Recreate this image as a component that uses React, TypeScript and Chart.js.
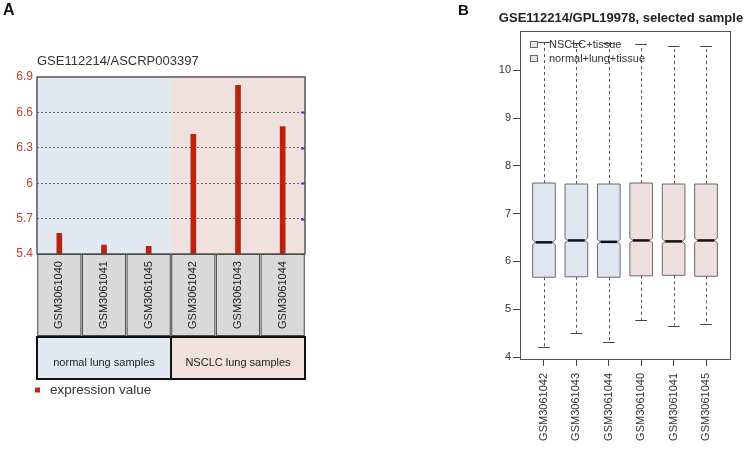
import React, { useEffect, useRef } from "react";
import { Chart, registerables } from "chart.js";

Chart.register(...registerables);

// ---------- Panel A data ----------
const samplesA = ["GSM3061040", "GSM3061041", "GSM3061045", "GSM3061042", "GSM3061043", "GSM3061044"];
const expressionA = [5.575, 5.475, 5.465, 6.415, 6.83, 6.48];
const yTicksA = [5.4, 5.7, 6.0, 6.3, 6.6, 6.9];
const yTickLabelsA = ["5.4", "5.7", "6", "6.3", "6.6", "6.9"];
const groupNamesA = ["normal lung samples", "NSCLC lung samples"];
const groupSizesA = [3, 3];
const titleA = "GSE112214/ASCRP003397";
const legendA = "expression value";

// ---------- Panel B data ----------
const samplesB = ["GSM3061042", "GSM3061043", "GSM3061044", "GSM3061040", "GSM3061041", "GSM3061045"];
const lowerWhiskerB = [4.21, 4.51, 4.32, 4.78, 4.66, 4.7];
const q1B = [5.67, 5.68, 5.67, 5.7, 5.71, 5.69];
const medianB = [6.4, 6.44, 6.41, 6.44, 6.42, 6.44];
const q3B = [7.64, 7.62, 7.62, 7.64, 7.62, 7.62];
const upperWhiskerB = [10.59, 10.57, 10.56, 10.54, 10.5, 10.5];
const groupOfB = [0, 0, 0, 1, 1, 1];
const legendB = ["NSCLC+tissue", "normal+lung+tissue"];
const yTicksB = [4, 5, 6, 7, 8, 9, 10];
const titleB = "GSE112214/GPL19978, selected sample";

const FONT = "'Liberation Sans', Arial, Helvetica, sans-serif";
const BLUE_BG = "#e3e9f3";
const PINK_BG = "#f0e1df";
const groupColorsA = [BLUE_BG, PINK_BG];
const boxFillB = ["#dfe6f2", "#efdfdf"];

const panelAPlugin = {
  id: "panelA",
  beforeDraw(chart: any) {
    const { ctx, chartArea: ca, scales } = chart;
    const x = scales.x;
    const catW = (ca.right - ca.left) / samplesA.length;
    let start = 0;
    ctx.save();
    groupSizesA.forEach((n, g) => {
      const l = x.getPixelForValue(start) - catW / 2;
      const r = x.getPixelForValue(start + n - 1) + catW / 2;
      ctx.fillStyle = groupColorsA[g];
      ctx.fillRect(l, ca.top, r - l, ca.bottom - ca.top);
      start += n;
    });
    ctx.restore();
  },
  afterDraw(chart: any) {
    const { ctx, chartArea: ca, scales } = chart;
    const x = scales.x;
    const y = scales.y;
    const catW = (ca.right - ca.left) / samplesA.length;
    ctx.save();
    // blue ticks on right edge
    ctx.strokeStyle = "#3a3acc";
    ctx.lineWidth = 2;
    yTicksA.slice(1, -1).forEach((v) => {
      const py = Math.round(y.getPixelForValue(v)) + 0.5;
      ctx.beginPath();
      ctx.moveTo(ca.right - 4, py);
      ctx.lineTo(ca.right, py);
      ctx.stroke();
    });
    // frame
    ctx.strokeStyle = "#555";
    ctx.lineWidth = 1.5;
    ctx.strokeRect(ca.left, ca.top, ca.right - ca.left, ca.bottom - ca.top);

    // sample cells
    const cellTop = ca.bottom;
    const cellH = 81;
    samplesA.forEach((s, i) => {
      const cx = x.getPixelForValue(i);
      const l = cx - catW / 2;
      ctx.fillStyle = "#d9d9d9";
      ctx.fillRect(l + 0.5, cellTop + 0.5, catW - 1, cellH);
      ctx.strokeStyle = "#4a4a4a";
      ctx.lineWidth = 1;
      ctx.strokeRect(l + 0.75, cellTop + 0.5, catW - 1.5, cellH);
      ctx.save();
      ctx.translate(cx, cellTop + cellH / 2 + 0.5);
      ctx.rotate(-Math.PI / 2);
      ctx.fillStyle = "#222";
      ctx.font = `11px ${FONT}`;
      ctx.textAlign = "center";
      ctx.textBaseline = "middle";
      ctx.fillText(s, 0, 0);
      ctx.restore();
    });

    // group boxes
    const gTop = cellTop + 83;
    const gH = 42;
    let start = 0;
    groupSizesA.forEach((n, g) => {
      const l = x.getPixelForValue(start) - catW / 2;
      const r = x.getPixelForValue(start + n - 1) + catW / 2;
      ctx.fillStyle = groupColorsA[g];
      ctx.fillRect(l, gTop, r - l, gH);
      ctx.strokeStyle = "#111";
      ctx.lineWidth = 2;
      ctx.strokeRect(l, gTop, r - l, gH);
      ctx.fillStyle = "#222";
      ctx.font = `11px ${FONT}`;
      ctx.textAlign = "center";
      ctx.textBaseline = "middle";
      ctx.fillText(groupNamesA[g], (l + r) / 2, gTop + 26);
      start += n;
    });

    // legend
    ctx.fillStyle = "#c0261a";
    ctx.fillRect(ca.left - 2, gTop + 50.5, 5, 5);
    ctx.fillStyle = "#333";
    ctx.font = `13.5px ${FONT}`;
    ctx.textAlign = "left";
    ctx.textBaseline = "middle";
    ctx.fillText(legendA, ca.left + 13, gTop + 53);

    // title
    ctx.fillStyle = "#333";
    ctx.font = `13px ${FONT}`;
    ctx.fillText(titleA, ca.left, ca.top - 16);

    // panel letter
    ctx.fillStyle = "#111";
    ctx.font = `bold 16px ${FONT}`;
    ctx.textBaseline = "top";
    ctx.fillText("A", 3, 3);
    ctx.restore();
  },
};

const BOX_HALF = 0.35;
const CAP_HALF = 0.18;
const NOTCH_H = 0.05;

const panelBPlugin = {
  id: "panelB",
  afterDatasetsDraw(chart: any) {
    const { ctx, chartArea: ca, scales } = chart;
    const x = scales.x;
    const y = scales.y;
    ctx.save();
    samplesB.forEach((_, i) => {
      const cx = x.getPixelForValue(i);
      const hw = x.getPixelForValue(i + BOX_HALF) - cx;
      const cw = x.getPixelForValue(i + CAP_HALF) - cx;
      const nw = hw - 3;
      const yLo = y.getPixelForValue(lowerWhiskerB[i]);
      const yQ1 = y.getPixelForValue(q1B[i]);
      const yMed = y.getPixelForValue(medianB[i]);
      const yQ3 = y.getPixelForValue(q3B[i]);
      const yHi = y.getPixelForValue(upperWhiskerB[i]);
      const yNU = y.getPixelForValue(medianB[i] + NOTCH_H);
      const yND = y.getPixelForValue(medianB[i] - NOTCH_H);
      const xc = Math.round(cx) + 0.5;

      // whiskers
      ctx.strokeStyle = "#555";
      ctx.lineWidth = 1;
      ctx.setLineDash([3, 3]);
      ctx.beginPath();
      ctx.moveTo(xc, yQ3);
      ctx.lineTo(xc, yHi);
      ctx.moveTo(xc, yQ1);
      ctx.lineTo(xc, yLo);
      ctx.stroke();
      ctx.setLineDash([]);
      ctx.strokeStyle = "#444";
      ctx.beginPath();
      ctx.moveTo(cx - cw, Math.round(yHi) + 0.5);
      ctx.lineTo(cx + cw, Math.round(yHi) + 0.5);
      ctx.moveTo(cx - cw, Math.round(yLo) + 0.5);
      ctx.lineTo(cx + cw, Math.round(yLo) + 0.5);
      ctx.stroke();

      // notched box
      ctx.beginPath();
      ctx.moveTo(cx - hw, yQ3);
      ctx.lineTo(cx + hw, yQ3);
      ctx.lineTo(cx + hw, yNU);
      ctx.lineTo(cx + nw, yMed);
      ctx.lineTo(cx + hw, yND);
      ctx.lineTo(cx + hw, yQ1);
      ctx.lineTo(cx - hw, yQ1);
      ctx.lineTo(cx - hw, yND);
      ctx.lineTo(cx - nw, yMed);
      ctx.lineTo(cx - hw, yNU);
      ctx.closePath();
      ctx.fillStyle = boxFillB[groupOfB[i]];
      ctx.fill();
      ctx.strokeStyle = "#6a6a6a";
      ctx.lineWidth = 1;
      ctx.stroke();

      // median
      ctx.strokeStyle = "#111";
      ctx.lineWidth = 2.5;
      ctx.beginPath();
      ctx.moveTo(cx - nw, yMed);
      ctx.lineTo(cx + nw, yMed);
      ctx.stroke();
    });

    // frame
    ctx.strokeStyle = "#555";
    ctx.lineWidth = 1;
    ctx.strokeRect(Math.round(ca.left) + 0.5, Math.round(ca.top) + 0.5, ca.right - ca.left, ca.bottom - ca.top);

    // legend
    legendB.forEach((t, g) => {
      const ly = ca.top + 13 + g * 14;
      ctx.fillStyle = boxFillB[g];
      ctx.fillRect(ca.left + 10, ly - 3, 8, 6);
      ctx.strokeStyle = "#666";
      ctx.lineWidth = 1;
      ctx.strokeRect(ca.left + 10.5, ly - 2.5, 7, 6);
      ctx.fillStyle = "#333";
      ctx.font = `11px ${FONT}`;
      ctx.textAlign = "left";
      ctx.textBaseline = "middle";
      ctx.fillText(t, ca.left + 29, ly + 0.5);
    });
    ctx.restore();
  },
  afterDraw(chart: any) {
    const { ctx, chartArea: ca } = chart;
    ctx.save();
    ctx.fillStyle = "#222";
    ctx.font = `bold 13px ${FONT}`;
    ctx.textAlign = "center";
    ctx.textBaseline = "middle";
    ctx.fillText(titleB, (ca.left + ca.right) / 2 - 4, 18);
    ctx.fillStyle = "#111";
    ctx.font = `bold 15px ${FONT}`;
    ctx.textAlign = "left";
    ctx.textBaseline = "top";
    ctx.fillText("B", 82, 3);
    ctx.restore();
  },
};

export default function App() {
  const refA = useRef<HTMLCanvasElement>(null);
  const refB = useRef<HTMLCanvasElement>(null);

  useEffect(() => {
    document.body.style.margin = "0";
    Chart.defaults.font.family = FONT;

    const chartA = new Chart(refA.current!, {
      type: "bar",
      data: {
        labels: samplesA,
        datasets: [
          {
            label: legendA,
            data: expressionA,
            backgroundColor: "#b8230f",
            barThickness: 5,
          },
        ],
      },
      options: {
        responsive: false,
        animation: false,
        events: [],
        layout: { padding: { top: 77, right: 71, bottom: 195, left: 0 } },
        plugins: { legend: { display: false }, tooltip: { enabled: false }, title: { display: false } },
        scales: {
          x: { display: false },
          y: {
            min: 5.4,
            max: 6.9,
            afterBuildTicks: (s: any) => {
              s.ticks = yTicksA.map((v) => ({ value: v }));
            },
            afterFit: (s: any) => {
              s.width = 37;
            },
            ticks: {
              color: "#c8412d",
              font: { size: 12 },
              padding: 4,
              callback: (_v: any, i: number) => yTickLabelsA[i],
            },
            grid: {
              drawTicks: false,
              lineWidth: 1,
              color: (c: any) => (c.index === 0 || c.index === yTicksA.length - 1 ? "rgba(0,0,0,0)" : "#666"),
            },
            border: { display: false, dash: [2, 2] },
          },
        },
      },
      plugins: [panelAPlugin],
    } as any);

    const chartB = new Chart(refB.current!, {
      type: "scatter",
      data: {
        datasets: [
          {
            label: "median",
            data: medianB.map((m, i) => ({ x: i, y: m })),
            pointRadius: 0,
            showLine: false,
          },
        ],
      },
      options: {
        responsive: false,
        animation: false,
        events: [],
        layout: { padding: { top: 31, right: 22, bottom: 0, left: 0 } },
        plugins: { legend: { display: false }, tooltip: { enabled: false }, title: { display: false } },
        scales: {
          x: {
            type: "linear",
            min: -0.74,
            max: 5.74,
            afterBuildTicks: (s: any) => {
              s.ticks = samplesB.map((_, i) => ({ value: i }));
            },
            afterFit: (s: any) => {
              s.height = 90;
            },
            ticks: {
              autoSkip: false,
              minRotation: 90,
              maxRotation: 90,
              padding: 7,
              color: "#333",
              font: { size: 11 },
              callback: (v: any) => samplesB[v],
            },
            grid: { drawOnChartArea: false, drawTicks: true, tickLength: 7, color: "#444" },
            border: { display: false },
          },
          y: {
            min: 3.96,
            max: 10.82,
            afterBuildTicks: (s: any) => {
              s.ticks = yTicksB.map((v) => ({ value: v }));
            },
            afterFit: (s: any) => {
              s.width = 144;
            },
            ticks: {
              color: "#333",
              font: { size: 11 },
              padding: 2,
              callback: (v: any) => String(v),
            },
            grid: { drawOnChartArea: false, drawTicks: true, tickLength: 7, color: "#444" },
            border: { display: false },
          },
        },
      },
      plugins: [panelBPlugin],
    } as any);

    return () => {
      chartA.destroy();
      chartB.destroy();
    };
  }, []);

  return (
    <div style={{ position: "relative", width: 752, height: 449, background: "#fff", overflow: "hidden" }}>
      <canvas ref={refA} width={376} height={449} style={{ position: "absolute", left: 0, top: 0, width: 376, height: 449 }} />
      <canvas ref={refB} width={376} height={449} style={{ position: "absolute", left: 376, top: 0, width: 376, height: 449 }} />
    </div>
  );
}
